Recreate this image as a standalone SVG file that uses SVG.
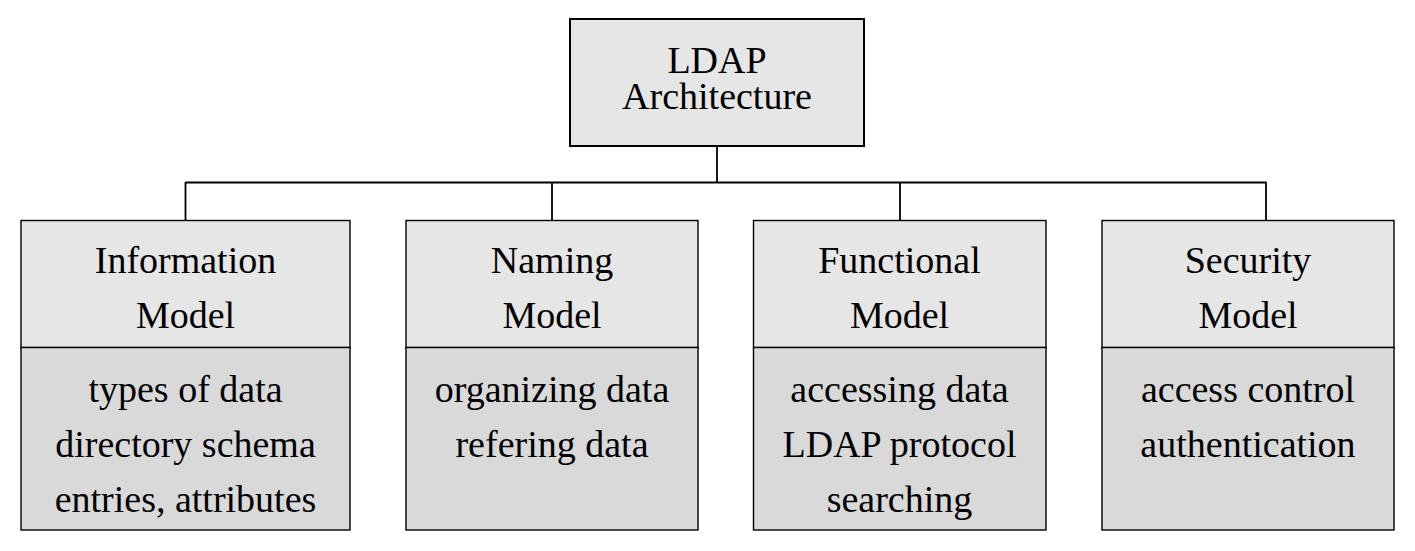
<svg xmlns="http://www.w3.org/2000/svg" width="1415" height="551" viewBox="0 0 1415 551">
<style>
text{font-family:"Liberation Serif","Times New Roman",serif;font-size:38px;fill:#000;text-anchor:middle}
.head{fill:#e6e6e6;stroke:#000;stroke-width:1.4}
.body{fill:#d9d9d9;stroke:#000;stroke-width:1.4}
.root{fill:#e6e6e6;stroke:#000;stroke-width:2}
.conn{fill:none;stroke:#000;stroke-width:1.8}
</style>
<rect width="1415" height="551" fill="#fff"/>
<g id="connectors">
<path class="conn" d="M717 146V182.5M185.5 182.5H1266.5M185.5 182V220M552 182V220M900 182V220M1266 182V220"/>
</g>
<g id="root">
<rect class="root" x="570" y="19" width="294" height="127"/>
<text x="717" y="73">LDAP</text>
<text x="717" y="109">Architecture</text>
</g>
<g id="information">
<rect class="head" x="21" y="220.5" width="329" height="127"/>
<rect class="body" x="21" y="347.5" width="329" height="182.5"/>
<text x="185.5" y="273">Information</text>
<text x="185.5" y="328">Model</text>
<text x="185.5" y="402">types of data</text>
<text x="185.5" y="457">directory schema</text>
<text x="185.5" y="512">entries, attributes</text>
</g>
<g id="naming">
<rect class="head" x="406" y="220.5" width="292" height="127"/>
<rect class="body" x="406" y="347.5" width="292" height="182.5"/>
<text x="552" y="273">Naming</text>
<text x="552" y="328">Model</text>
<text x="552" y="402">organizing data</text>
<text x="552" y="457">refering data</text>
</g>
<g id="functional">
<rect class="head" x="753.5" y="220.5" width="292.5" height="127"/>
<rect class="body" x="753.5" y="347.5" width="292.5" height="182.5"/>
<text x="899.5" y="273">Functional</text>
<text x="899.5" y="328">Model</text>
<text x="899.5" y="402">accessing data</text>
<text x="899.5" y="457">LDAP protocol</text>
<text x="899.5" y="512">searching</text>
</g>
<g id="security">
<rect class="head" x="1102" y="220.5" width="292" height="127"/>
<rect class="body" x="1102" y="347.5" width="292" height="182.5"/>
<text x="1248" y="273">Security</text>
<text x="1248" y="328">Model</text>
<text x="1248" y="402">access control</text>
<text x="1248" y="457">authentication</text>
</g>
</svg>
